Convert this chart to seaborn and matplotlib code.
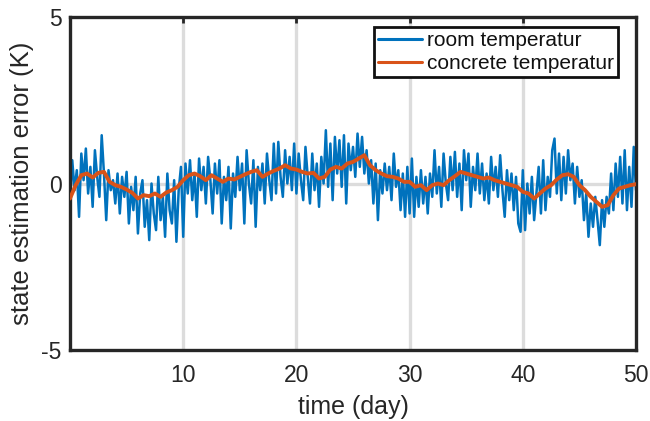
import numpy as np
import pandas as pd
import matplotlib
matplotlib.use("Agg")
import matplotlib.pyplot as plt
import seaborn as sns

# ---- data ----
room_step = 0.2   # days between room samples
room_temp_error = [
    -0.5, 0.7, -0.2, 0.4, -1.0,
    0.9, 0.1, 1.05, -0.3, 0.5,
    -0.7, 1.0, 0.2, -0.4, 1.45,
    0.3, -1.1, 0.4, -0.2, 0.1,
    -0.6, 0.3, -0.9, 0.2, -0.4,
    0.35, -1.2, -0.1, -0.8, 0.2,
    -1.5, -0.3, 0.1, -1.3, -0.5,
    -1.7, 0.0, -0.9, -1.4, 0.2,
    -1.1, -0.4, -1.6, 0.3, -0.8,
    -1.2, 0.1, -1.75, -0.2, 0.5,
    -1.6, 0.6, -0.3, 0.7, -0.5,
    0.3, -1.0, 0.75, -0.2, 0.5,
    -0.6, 0.8, 0.1, -0.9, 0.6,
    -0.3, 0.7, -1.2, 0.2, -0.5,
    0.5, -1.35, 0.3, -0.4, 0.8,
    -0.2, 0.6, -1.2, 1.0, 0.0,
    -0.6, 0.7, -1.3, 0.5, -0.2,
    0.6, -0.6, 0.9, 0.1, -0.5,
    1.2, -0.3, 1.25, 0.2, -0.4,
    1.0, 0.0, 0.8, -0.2, 1.2,
    -0.3, 0.9, 0.1, -0.5, 1.1,
    0.2, -0.6, 0.9, -0.2, 0.6,
    -0.7, 0.8, 0.0, 1.6, -0.1,
    1.2, -0.5, 1.4, 0.3, 1.3,
    -0.1, 1.45, -0.6, 1.2, 0.4,
    1.1, 0.2, 1.5, 0.5, 1.4,
    0.3, 1.0, 0.0, 0.7, -0.6,
    0.6, -1.1, 0.4, -0.3, 0.6,
    -0.2, 0.5, -0.5, 0.9, -0.1,
    0.4, -0.8, 0.3, -1.0, 0.5,
    -0.9, 0.75, -1.0, 0.2, -0.7,
    0.4, -0.6, 0.2, -0.9, 0.3,
    -0.4, 1.0, -0.3, 0.5, -0.7,
    0.9, 0.0, -0.5, 0.8, -0.2,
    0.95, -0.4, 0.6, -0.8, 1.0,
    0.1, 0.9, -0.7, 0.5, -0.2,
    0.9, -0.3, 0.6, -0.5, 0.3,
    -0.6, 0.8, -0.2, 0.5, -0.4,
    0.85, -0.2, -1.0, 0.4, -0.5,
    0.3, -0.8, 0.2, -1.2, -1.45,
    0.4, -1.4, 0.0, -0.9, 0.2,
    -1.1, -0.3, 0.5, -0.9, 0.7,
    -0.8, 0.2, -0.4, 1.0, 1.35,
    -0.3, 0.9, -0.5, 0.8, -0.3,
    1.0, 0.1, 0.6, -0.6, 0.5,
    -0.4, 0.1, -1.1, -0.3, -1.6,
    -0.6, -1.3, -0.4, -1.1, -1.85,
    -0.5, -1.3, -0.4, -0.9, 0.3,
    -0.8, 0.6, -0.4, 0.8, -0.6,
    1.0, -0.8, 0.5, -0.7, 1.1,
    -0.2,
]

concrete_step = 0.5   # days between concrete samples
concrete_temp_error = [
    -0.45, -0.05, 0.25, 0.3, 0.18, 0.32, 0.35, 0.05, -0.05, -0.1,
    -0.18, -0.28, -0.45, -0.35, -0.38, -0.3, -0.4, -0.27, -0.2, -0.1,
    0.1, 0.25, 0.3, 0.22, 0.1, 0.25, 0.15, 0.05, 0.15, 0.12,
    0.2, 0.28, 0.35, 0.4, 0.2, 0.3, 0.38, 0.45, 0.55, 0.45,
    0.42, 0.35, 0.3, 0.32, 0.15, 0.2, 0.42, 0.5, 0.45, 0.6,
    0.65, 0.75, 0.85, 0.55, 0.4, 0.3, 0.22, 0.2, 0.15, 0.05,
    0.05, -0.1, -0.05, -0.2, -0.05, 0.0, -0.05, 0.1, 0.22, 0.35,
    0.3, 0.25, 0.2, 0.15, 0.18, 0.1, 0.05, 0.0, -0.05, -0.1,
    -0.25, -0.3, -0.45, -0.3, -0.15, -0.05, 0.12, 0.25, 0.28, 0.2,
    -0.05, -0.2, -0.4, -0.55, -0.7, -0.65, -0.35, -0.15, -0.1, -0.05,
    -0.02,
]

series_names = ["room temperatur", "concrete temperatur"]
x_ticks = [10, 20, 30, 40, 50]
y_ticks = [-5, 0, 5]
x_label = "time (day)"
y_label = "state estimation error (K)"

room_df = pd.DataFrame({
    "day": np.arange(len(room_temp_error)) * room_step,
    "err": room_temp_error,
    "series": series_names[0],
})
conc_df = pd.DataFrame({
    "day": np.arange(len(concrete_temp_error)) * concrete_step,
    "err": concrete_temp_error,
    "series": series_names[1],
})

# ---- style ----
sns.set_style("white")
plt.rcParams["font.family"] = ["Liberation Sans", "DejaVu Sans"]
plt.rcParams["axes.unicode_minus"] = False

fig = plt.figure(figsize=(6.5, 4.21), dpi=100)
ax = fig.add_axes([0.1077, 0.1686, 0.8708, 0.791])

blue = "#0072BD"
orange = "#D95319"
grid_c = "#DCDCDC"
dark = "#262626"

for gx in x_ticks[:-1]:
    ax.axvline(gx, color=grid_c, lw=2.4, zorder=0)
ax.axhline(0, color=grid_c, lw=2.4, zorder=0)

sns.lineplot(data=room_df, x="day", y="err", ax=ax, color=blue, lw=1.8,
             label=series_names[0], estimator=None, zorder=2)
sns.lineplot(data=conc_df, x="day", y="err", ax=ax, color=orange, lw=2.8,
             label=series_names[1], estimator=None, zorder=3)

ax.set_xlim(0, 50)
ax.set_ylim(-5, 5)
ax.set_xticks(x_ticks)
ax.set_yticks(y_ticks)
ax.tick_params(direction="in", length=4, width=2, color=dark,
               labelsize=16.5, top=True, right=True, labelcolor=dark)
ax.tick_params(axis="x", pad=10)
ax.tick_params(axis="y", pad=6)
for s in ax.spines.values():
    s.set_linewidth(2.4)
    s.set_color(dark)
ax.set_xlabel(x_label, fontsize=18, color=dark, labelpad=6)
ax.set_ylabel(y_label, fontsize=18.5, color=dark, labelpad=5)

leg = ax.legend(loc="upper right", bbox_to_anchor=(0.968, 0.971), fontsize=15,
                frameon=True, fancybox=False, framealpha=1, edgecolor="#111111",
                handlelength=2.1, handletextpad=0.25, borderpad=0.2,
                labelspacing=0.2, borderaxespad=0)
leg.get_frame().set_linewidth(2.0)
for line in leg.get_lines():
    line.set_linewidth(2.2)
for t in leg.get_texts():
    t.set_color("#111111")

fig.savefig("out.png", dpi=100)
